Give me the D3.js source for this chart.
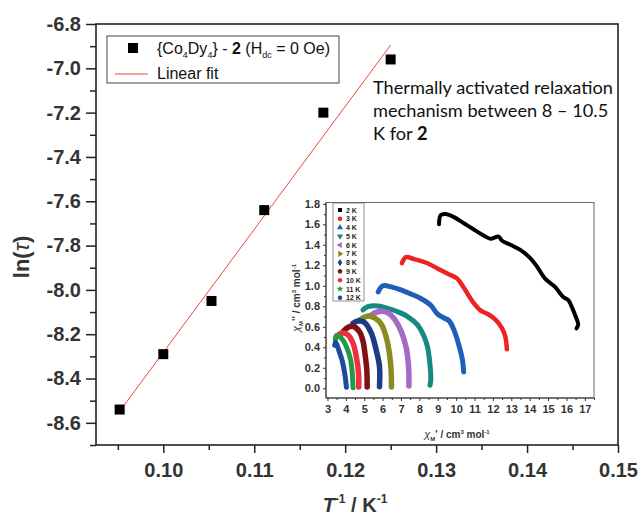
<!DOCTYPE html>
<html><head><meta charset="utf-8">
<script src="https://cdn.jsdelivr.net/npm/d3@7"></script>
<style>body{margin:0;background:#fff} svg{display:block} text{font-family:"Liberation Sans",Arial,sans-serif}</style>
</head><body><svg id="c" width="641" height="515"></svg>
<script>
// ---- main plot data ----
const invT = [0.0952, 0.1000, 0.1053, 0.1111, 0.1176, 0.1250];
const lnTau = [-8.54, -8.29, -8.05, -7.64, -7.20, -6.96];
const fitX = [0.0952, 0.1250];
const fitY = [-8.548, -6.895];
const xTicksMain = [0.10, 0.11, 0.12, 0.13, 0.14, 0.15];
const xMinorMain = [0.095, 0.105, 0.115, 0.125, 0.135, 0.145];
const yTicksMain = [-6.8, -7.0, -7.2, -7.4, -7.6, -7.8, -8.0, -8.2, -8.4, -8.6];
const yMinorMain = [-6.9, -7.1, -7.3, -7.5, -7.7, -7.9, -8.1, -8.3, -8.5, -8.7];

// ---- inset (Cole-Cole) data: [chi', chi''] ----
const cc2K = [[9.07,1.60],[9.16,1.69],[9.43,1.70],[9.88,1.67],[10.42,1.61],[10.96,1.55],[11.50,1.49],[11.86,1.46],[12.31,1.48],[12.50,1.44],[12.95,1.40],[13.49,1.35],[14.03,1.27],[14.39,1.19],[14.84,1.07],[15.38,0.99],[15.83,0.89],[16.10,0.86],[16.28,0.80],[16.46,0.72],[16.64,0.62],[16.55,0.585]];
const cc3K = [[7.05,1.22],[7.27,1.28],[7.72,1.26],[8.44,1.22],[8.98,1.17],[9.52,1.12],[10.06,1.07],[10.42,0.98],[10.96,0.83],[11.32,0.76],[11.77,0.72],[12.14,0.67],[12.50,0.585],[12.68,0.50],[12.76,0.38]];
const cc4K = [[5.76,0.94],[6.01,1.00],[6.46,0.99],[7.00,0.96],[7.54,0.92],[8.08,0.876],[8.62,0.81],[8.98,0.725],[9.34,0.686],[9.61,0.66],[9.88,0.57],[10.15,0.42],[10.34,0.28],[10.41,0.16]];
const cc5K = [[4.93,0.764],[5.20,0.796],[5.74,0.803],[6.28,0.78],[6.82,0.747],[7.36,0.70],[7.90,0.618],[8.26,0.503],[8.44,0.406],[8.57,0.244],[8.62,0.081],[8.58,0.03]];
const cc6K = [[5.38,0.715],[5.74,0.747],[6.28,0.738],[6.64,0.676],[7.00,0.56],[7.27,0.406],[7.41,0.218],[7.43,0.022]];
const cc7K = [[4.75,0.666],[5.20,0.705],[5.56,0.686],[5.92,0.627],[6.19,0.503],[6.37,0.341],[6.46,0.179],[6.48,0.013]];
const cc8K = [[4.39,0.634],[4.66,0.657],[5.02,0.642],[5.38,0.54],[5.65,0.374],[5.83,0.211],[5.83,0.016]];
const cc9K = [[3.85,0.552],[4.12,0.595],[4.39,0.605],[4.75,0.549],[4.93,0.461],[5.05,0.325],[5.14,0.178],[5.16,0.013]];
const cc10K = [[3.49,0.503],[3.76,0.537],[4.12,0.52],[4.39,0.439],[4.57,0.308],[4.69,0.146],[4.70,0.013]];
const cc11K = [[3.43,0.471],[3.49,0.515],[3.76,0.488],[4.03,0.406],[4.26,0.276],[4.35,0.146],[4.39,0.005]];
const cc12K = [[3.39,0.42],[3.45,0.45],[3.62,0.37],[3.80,0.27],[3.95,0.13],[4.03,0.01]];
const seriesNames = ["2 K","3 K","4 K","5 K","6 K","7 K","8 K","9 K","10 K","11 K","12 K"];
const seriesData = [cc2K,cc3K,cc4K,cc5K,cc6K,cc7K,cc8K,cc9K,cc10K,cc11K,cc12K];
const seriesColors = ["#000000","#ee2320","#1f5fb8","#168a80","#a36cc4","#8a8a22","#1c3d86","#7d1116","#f0303e","#239a45","#1e4a9a"];
const seriesWidths = [4, 4.5, 5, 5, 5.5, 5.5, 5.5, 5.5, 5.5, 5, 5];
const seriesSymbols = ["square","circle","triUp","triDown","triLeft","triRight","diamond","pentagon","circle","star","circle"];
const xTicksIn = [3,4,5,6,7,8,9,10,11,12,13,14,15,16,17];
const xMinorIn = [3.5,4.5,5.5,6.5,7.5,8.5,9.5,10.5,11.5,12.5,13.5,14.5,15.5,16.5,17.5];
const yTicksIn = [0.0,0.2,0.4,0.6,0.8,1.0,1.2,1.4,1.6,1.8];
const yMinorIn = [0.1,0.3,0.5,0.7,0.9,1.1,1.3,1.5,1.7];

const svg = d3.select("#c");
const tc = "#333";

// ---- main scales ----
const L=96, R=618, T=24, B=445;
const x = d3.scaleLinear().domain([0.0926, 0.15]).range([L, R]);
const y = d3.scaleLinear().domain([-8.7, -6.8]).range([B, T]);

function styleAxis(g, size){
  g.select(".domain").remove();
  g.selectAll("line").attr("stroke","#222").attr("stroke-width",1.5);
  g.selectAll("text").attr("font-size",size).attr("font-weight","bold").attr("fill",tc);
}
svg.append("g").attr("transform",`translate(0,${B})`)
  .call(d3.axisBottom(x).tickValues(xMinorMain).tickFormat("").tickSize(5))
  .call(g=>styleAxis(g,20));
svg.append("g").attr("transform",`translate(0,${B})`)
  .call(d3.axisBottom(x).tickValues(xTicksMain).tickFormat(d=>d.toFixed(2)).tickSize(8).tickPadding(10))
  .call(g=>styleAxis(g,20));
svg.append("g").attr("transform",`translate(${L},0)`)
  .call(d3.axisLeft(y).tickValues(yMinorMain).tickFormat("").tickSize(6))
  .call(g=>styleAxis(g,20));
svg.append("g").attr("transform",`translate(${L},0)`)
  .call(d3.axisLeft(y).tickValues(yTicksMain).tickFormat(d=>d.toFixed(1)).tickSize(10).tickPadding(5))
  .call(g=>styleAxis(g,20));
svg.append("rect").attr("x",L).attr("y",T).attr("width",R-L).attr("height",B-T)
  .attr("fill","none").attr("stroke","#222").attr("stroke-width",1.6);

svg.append("path").datum(fitX.map((v,i)=>[v,fitY[i]]))
  .attr("d", d3.line().x(d=>x(d[0])).y(d=>y(d[1])))
  .attr("stroke","#f0443a").attr("stroke-width",1).attr("fill","none");
svg.append("g").selectAll("rect").data(invT.map((v,i)=>[v,lnTau[i]])).join("rect")
  .attr("x",d=>x(d[0])-5).attr("y",d=>y(d[1])-5).attr("width",10).attr("height",10).attr("fill","#000");

// legend
svg.append("rect").attr("x",107).attr("y",36).attr("width",232).attr("height",47)
  .attr("fill","#fff").attr("stroke","#444").attr("stroke-width",1);
svg.append("rect").attr("x",128).attr("y",43).attr("width",10).attr("height",10).attr("fill","#000");
const lt = svg.append("text").attr("x",157).attr("y",54).attr("font-size",16).attr("fill","#111");
lt.append("tspan").text("{Co");
lt.append("tspan").text("4").attr("font-size",9).attr("dy",4);
lt.append("tspan").text("Dy").attr("dy",-4);
lt.append("tspan").text("4").attr("font-size",9).attr("dy",4);
lt.append("tspan").text("} - ").attr("dy",-4);
lt.append("tspan").text("2").attr("font-weight","bold");
lt.append("tspan").text(" (H");
lt.append("tspan").text("dc").attr("font-size",9).attr("dy",4);
lt.append("tspan").text(" = 0 Oe)").attr("dy",-4);
svg.append("line").attr("x1",115).attr("x2",148).attr("y1",74).attr("y2",74).attr("stroke","#f0443a").attr("stroke-width",1);
svg.append("text").attr("x",157).attr("y",79).attr("font-size",16).attr("fill","#111").text("Linear fit");

// annotation
const ann = svg.append("g").attr("fill","#111");
const a1 = ann.append("text").attr("x",373).attr("y",94).style("font-family","Lato").attr("font-size",19).text("Thermally activated relaxation");
const w1 = a1.node().getComputedTextLength();
const fs = 19*240/w1;
a1.attr("font-size",fs);
ann.append("text").attr("x",373).attr("y",117).style("font-family","Lato").attr("font-size",fs).text("mechanism between 8 \u2013 10.5");
const a3 = ann.append("text").attr("x",373).attr("y",140).style("font-family","Lato").attr("font-size",fs);
a3.append("tspan").text("K for ");
a3.append("tspan").text("2").attr("font-weight","bold");

// axis labels
svg.append("text").attr("transform","translate(29,257) rotate(-90)").attr("text-anchor","middle")
  .attr("font-size",22).attr("font-weight","bold").attr("fill",tc)
  .call(t=>{t.append("tspan").text("ln(");t.append("tspan").text("\u03c4").attr("font-style","italic").attr("font-weight","normal");t.append("tspan").text(")");});
const xl = svg.append("text").attr("x",355).attr("y",512).attr("text-anchor","middle").attr("font-size",20).attr("font-weight","bold").attr("fill",tc);
xl.append("tspan").text("T").attr("font-style","italic");
xl.append("tspan").text("-1").attr("font-size",12).attr("dy",-9);
xl.append("tspan").text(" / K").attr("dy",9);
xl.append("tspan").text("-1").attr("font-size",12).attr("dy",-9);

// ---- inset ----
const iL=326, iR=594, iT=202.5, iB=398;
const xi = d3.scaleLinear().domain([2.92, 17.5]).range([iL, iR]);
const yi = d3.scaleLinear().domain([-0.095, 1.813]).range([iB, iT]);
svg.append("rect").attr("x",iL).attr("y",iT).attr("width",iR-iL).attr("height",iB-iT)
  .attr("fill","#fff").attr("stroke","#666").attr("stroke-width",1);
function styleIn(g){
  g.select(".domain").remove();
  g.selectAll("line").attr("stroke","#333").attr("stroke-width",1);
  g.selectAll("text").attr("font-size",11).attr("font-weight","bold").attr("fill",tc);
}
svg.append("g").attr("transform",`translate(0,${iB})`).call(d3.axisBottom(xi).tickValues(xMinorIn).tickFormat("").tickSize(2)).call(styleIn);
svg.append("g").attr("transform",`translate(0,${iB})`).call(d3.axisBottom(xi).tickValues(xTicksIn).tickFormat(d3.format("d")).tickSize(3).tickPadding(4)).call(styleIn);
svg.append("g").attr("transform",`translate(${iL},0)`).call(d3.axisLeft(yi).tickValues(yMinorIn).tickFormat("").tickSize(2)).call(styleIn);
svg.append("g").attr("transform",`translate(${iL},0)`).call(d3.axisLeft(yi).tickValues(yTicksIn).tickFormat(d=>d.toFixed(1)).tickSize(3).tickPadding(3)).call(styleIn);
svg.append("line").attr("x1",iL).attr("x2",iR).attr("y1",iB).attr("y2",iB).attr("stroke","#333");
svg.append("line").attr("x1",iL).attr("x2",iL).attr("y1",iT).attr("y2",iB).attr("stroke","#333");

const lineIn = d3.line().x(d=>xi(d[0])).y(d=>yi(d[1])).curve(d3.curveCatmullRom);
svg.append("g").selectAll("path").data(seriesData).join("path")
  .attr("d",lineIn).attr("fill","none").attr("stroke",(d,i)=>seriesColors[i])
  .attr("stroke-width",(d,i)=>seriesWidths[i]).attr("stroke-linecap","round").attr("stroke-linejoin","round");

// inset legend
svg.append("rect").attr("x",333).attr("y",203).attr("width",31).attr("height",98).attr("fill","#fff").attr("stroke","#777").attr("stroke-width",0.8);
function sym(name){
  const s = 16;
  switch(name){
    case "square": return d3.symbol(d3.symbolSquare, s)();
    case "circle": return d3.symbol(d3.symbolCircle, s)();
    case "diamond": return d3.symbol(d3.symbolDiamond, s)();
    case "star": return d3.symbol(d3.symbolStar, s)();
    case "pentagon": { const r=2.6; return "M"+d3.range(5).map(k=>{const a=-Math.PI/2+k*2*Math.PI/5;return [r*Math.cos(a),r*Math.sin(a)];}).join("L")+"Z"; }
    default: return d3.symbol(d3.symbolTriangle, s)();
  }
}
const rot = {triUp:0, triDown:180, triLeft:-90, triRight:90};
const lg = svg.append("g");
seriesNames.forEach((n,i)=>{
  const yy = 210 + i*8.77;
  lg.append("path").attr("d",sym(seriesSymbols[i])).attr("fill",seriesColors[i])
    .attr("transform",`translate(340,${yy}) rotate(${rot[seriesSymbols[i]]||0})`);
  lg.append("text").attr("x",346).attr("y",yy+2.6).attr("font-size",7).attr("font-weight","bold").attr("fill","#222").text(n);
});

// inset axis labels
const xil = svg.append("text").attr("x",457).attr("y",438).attr("text-anchor","middle").attr("font-size",10).attr("font-weight","bold").attr("fill",tc);
xil.append("tspan").text("\u03c7").attr("font-style","italic").attr("font-weight","normal").attr("font-size",11);
xil.append("tspan").text("M").attr("font-size",6).attr("dy",2.5);
xil.append("tspan").text("' / cm").attr("dy",-2.5);
xil.append("tspan").text("3").attr("font-size",6).attr("dy",-4);
xil.append("tspan").text(" mol").attr("dy",4);
xil.append("tspan").text("-1").attr("font-size",6).attr("dy",-4);
const yil = svg.append("text").attr("transform","translate(300,298) rotate(-90)").attr("text-anchor","middle").attr("font-size",10).attr("font-weight","bold").attr("fill",tc);
yil.append("tspan").text("\u03c7").attr("font-style","italic").attr("font-weight","normal").attr("font-size",11);
yil.append("tspan").text("M").attr("font-size",6).attr("dy",2.5);
yil.append("tspan").text("'' / cm").attr("dy",-2.5);
yil.append("tspan").text("3").attr("font-size",6).attr("dy",-4);
yil.append("tspan").text(" mol").attr("dy",4);
yil.append("tspan").text("-1").attr("font-size",6).attr("dy",-4);
</script></body></html>
